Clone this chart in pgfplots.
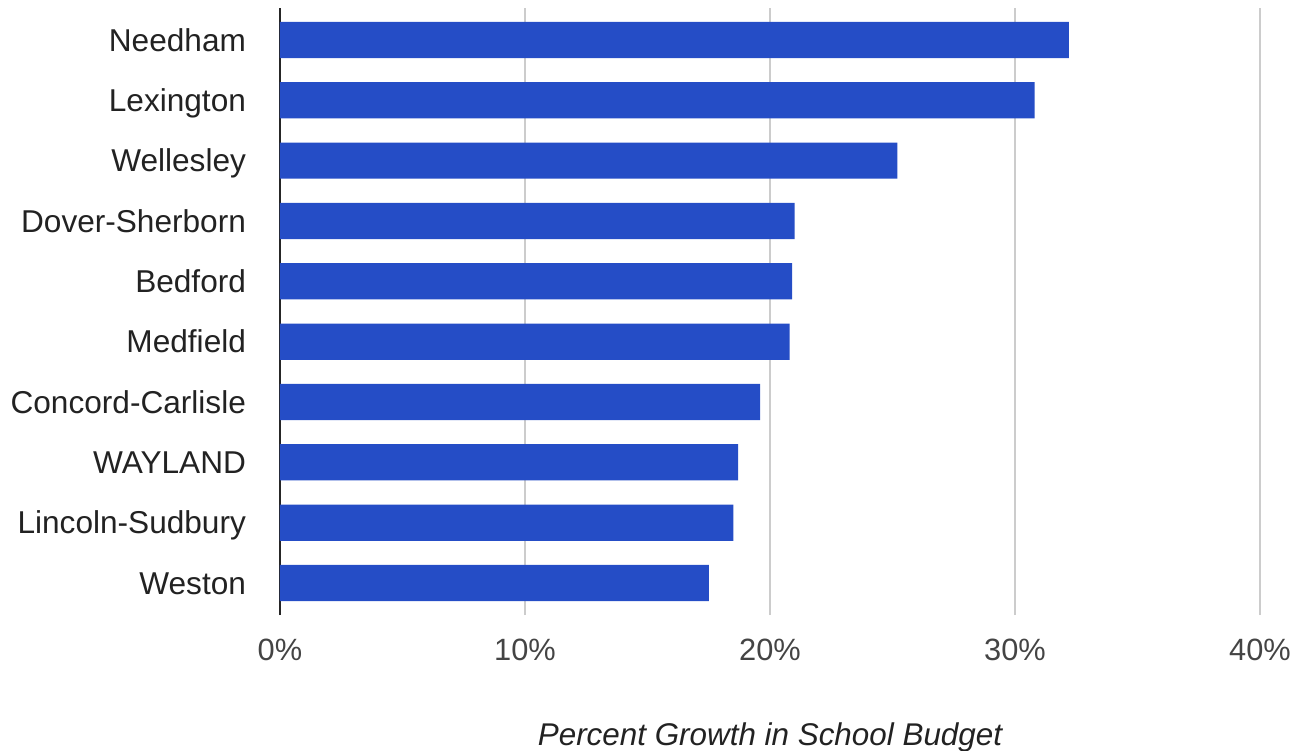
\documentclass[border=0pt]{standalone}
\usepackage{pgfplots}
\pgfplotsset{compat=1.18}
\usepackage{fontspec}
\setmainfont{Liberation Sans}
\definecolor{barblue}{RGB}{37,77,198}
\definecolor{gridgray}{RGB}{204,204,204}
\definecolor{labeltext}{RGB}{34,34,34}
\definecolor{ticktext}{RGB}{68,68,68}
\begin{document}
\begin{tikzpicture}
\useasboundingbox (-140pt,-67.5pt) rectangle (506.5pt,307.5pt);
\begin{axis}[
  at={(0,0)}, anchor=south west,
  scale only axis, width=490pt, height=303.5pt,
  xbar, bar width=0.6,
  xmin=0, xmax=40, ymin=-0.53, ymax=9.53,
  xtick={0,10,20,30,40},
  xticklabels={0\%,10\%,20\%,30\%,40\%},
  ytick={0,1,2,3,4,5,6,7,8,9},
  yticklabels={Weston,Lincoln-Sudbury,WAYLAND,Concord-Carlisle,Medfield,Bedford,Dover-Sherborn,Wellesley,Lexington,Needham},
  xmajorgrids, major grid style={gridgray, line width=0.9pt},
  axis x line*=bottom, axis y line*=left,
  x axis line style={draw=none},
  y axis line style={draw=black!85, line width=0.8pt},
  major tick length=0pt,
  yticklabel style={font=\fontsize{15.8}{18}\selectfont, text=labeltext, anchor=east, xshift=-13.5pt, text height=14pt, text depth=2.8pt},
  xticklabel style={font=\fontsize{15.4}{18}\selectfont, text=ticktext, yshift=-8.5pt},
  xlabel={Percent Growth in School Budget},
  xlabel style={font=\fontsize{15.7}{18}\selectfont\itshape, text=labeltext, at={(axis description cs:0.5,0)}, anchor=base, yshift=-65pt},
]
\addplot[fill=barblue, draw=none] coordinates {
  (17.5,0) (18.5,1) (18.7,2) (19.6,3) (20.8,4) (20.9,5) (21.0,6) (25.2,7) (30.8,8) (32.2,9)
};
\end{axis}
\end{tikzpicture}
\end{document}
